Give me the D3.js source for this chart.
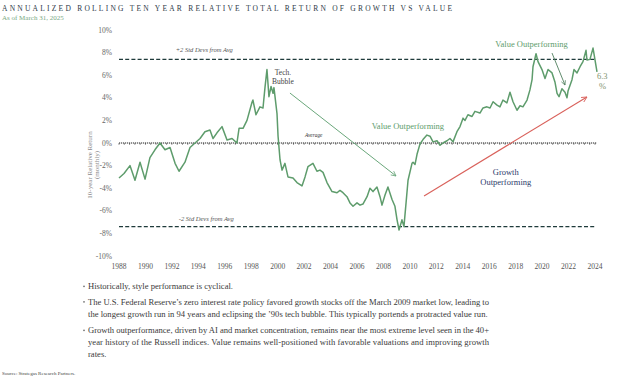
<!DOCTYPE html>
<html>
<head>
<meta charset="utf-8">
<title>Growth vs Value</title>
<style>
  html, body { margin: 0; padding: 0; background: #fff; }
  svg { display: block; }
  text { font-family: "Liberation Serif", "DejaVu Serif", serif; }
</style>
</head>
<body>
<script src="https://d3js.org/d3.v7.min.js"></script>
<script>
// rolling 10y relative return, growth minus value (%)
var years = [
  1988.00, 1988.38, 1988.83, 1989.21, 1989.59, 1989.97, 1990.34, 1990.72, 1991.10, 1991.48,
  1991.86, 1992.24, 1992.54, 1992.99, 1993.37, 1993.75, 1994.13, 1994.50, 1994.88, 1995.11,
  1995.41, 1995.79, 1996.17, 1996.55, 1996.92, 1997.08, 1997.38, 1997.68, 1998.06, 1998.13,
  1998.36, 1998.66, 1998.89, 1999.04, 1999.19, 1999.34, 1999.50, 1999.65, 1999.72, 1999.95,
  2000.03, 2000.18, 2000.33, 2000.55, 2000.78, 2001.16, 2001.46, 2001.84, 2002.07, 2002.29,
  2002.67, 2002.97, 2003.20, 2003.43, 2003.73, 2004.11, 2004.49, 2004.71, 2004.94, 2005.24,
  2005.47, 2005.70, 2006.00, 2006.23, 2006.45, 2006.76, 2006.98, 2007.21, 2007.51, 2007.74,
  2007.89, 2008.12, 2008.34, 2008.65, 2008.87, 2009.03, 2009.18, 2009.40, 2009.55, 2009.71,
  2009.86, 2010.16, 2010.24, 2010.39, 2010.54, 2010.76, 2010.99, 2011.29, 2011.52, 2011.75,
  2012.05, 2012.28, 2012.50, 2012.81, 2013.03, 2013.26, 2013.56, 2013.79, 2014.02, 2014.17,
  2014.39, 2014.70, 2014.92, 2015.30, 2015.53, 2015.83, 2016.06, 2016.29, 2016.59, 2016.81,
  2017.04, 2017.34, 2017.57, 2017.80, 2018.10, 2018.33, 2018.55, 2018.86, 2019.08, 2019.24,
  2019.31, 2019.54, 2019.69, 2019.99, 2020.22, 2020.45, 2020.75, 2020.97, 2021.13, 2021.28,
  2021.50, 2021.73, 2021.88, 2021.96, 2022.26, 2022.41, 2022.64, 2022.87, 2023.09, 2023.32,
  2023.39, 2023.62, 2023.85, 2024.00, 2024.15
];
var relReturn = [
  -3.1, -2.7, -2.0, -3.3, -1.7, -3.2, -1.3, -0.6, 0.0, -0.6,
  -0.4, -1.8, -2.5, -1.7, -0.4, 0.0, 0.4, 1.0, 1.15, 0.4,
  0.9, 1.45, 0.27, 0.4, 0.0, 1.3, 1.3, 2.0, 3.6, 3.8,
  2.5, 3.2, 3.1, 4.9, 6.5, 4.1, 5.0, 4.4, 4.9, 2.6,
  0.6, -1.5, -2.4, -1.8, -3.0, -3.1, -3.5, -3.8, -3.0, -2.1,
  -1.8, -2.5, -2.4, -2.6, -3.5, -4.3, -4.4, -4.2, -4.4, -4.75,
  -5.3, -5.6, -5.3, -5.5, -5.4, -4.75, -4.0, -4.3, -3.9, -4.75,
  -5.5, -4.6, -3.9, -5.0, -5.6, -6.8, -7.7, -6.8, -7.4, -5.3,
  -3.3, -1.8, -1.7, -1.9, -1.0, -0.1, 0.3, 0.7, 0.6, 0.1,
  0.2, -0.2, 0.0, 0.2, 0.4, 0.1, 1.0, 1.45, 2.2, 2.0,
  2.5, 2.35, 2.8, 2.65, 3.1, 3.2, 3.1, 3.65, 3.35, 3.2,
  3.8, 3.55, 4.5, 3.65, 2.9, 3.3, 3.2, 3.8, 4.7, 5.6,
  6.75, 7.9, 7.2, 6.5, 5.7, 6.5, 6.2, 5.4, 4.4, 4.1,
  4.8, 4.5, 4.0, 4.6, 5.6, 6.5, 6.2, 6.75, 7.2, 8.2,
  7.35, 7.4, 8.4, 7.35, 6.3
];
var yTicks = [-10, -8, -6, -4, -2, 0, 2, 4, 6, 8, 10];
var xTicks = d3.range(1988, 2025, 2);
var avgLevel = 0;
var stdLevels = [7.4, -7.4];
var lastValue = 6.3;

var bullets = [
  ["Historically, style performance is cyclical."],
  ["The U.S. Federal Reserve\u2019s zero interest rate policy favored growth stocks off the March 2009 market low, leading to",
   "the longest growth run in 94 years and eclipsing the \u201990s tech bubble. This typically portends a protracted value run."],
  ["Growth outperformance, driven by AI and market concentration, remains near the most extreme level seen in the 40+",
   "year history of the Russell indices. Value remains well-positioned with favorable valuations and improving growth",
   "rates."]
];

var W = 624, H = 388;
var green = "#5e9c6c";

var svg = d3.select("body").append("svg")
    .attr("width", W)
    .attr("height", H);

var x = d3.scaleLinear().domain([1988, 2024]).range([119, 595]);
var y = d3.scaleLinear().domain([-10, 10]).range([256, 30]);

// title
svg.append("text")
    .attr("x", 2).attr("y", 11)
    .attr("textLength", 450).attr("lengthAdjust", "spacing")
    .style("font-size", "7.5px").style("fill", "#2e3a48")
    .text("ANNUALIZED ROLLING TEN YEAR RELATIVE TOTAL RETURN OF GROWTH VS VALUE");
svg.append("text")
    .attr("x", 2).attr("y", 19.5)
    .style("font-size", "7px").style("fill", "#7aa983")
    .text("As of March 31, 2025");

// y labels
svg.selectAll(".ytick").data(yTicks).enter().append("text")
    .attr("x", 112).attr("y", d => y(d)).attr("dy", "0.35em")
    .attr("text-anchor", "end")
    .style("font-size", "7.5px").style("fill", "#666")
    .text(d => d + "%");

// x labels
svg.selectAll(".xtick").data(xTicks).enter().append("text")
    .attr("x", d => x(d)).attr("y", 268.5)
    .attr("text-anchor", "middle")
    .style("font-size", "7.5px").style("fill", "#555")
    .text(d => d);

// axis title
var yt = svg.append("text")
    .attr("transform", "translate(92,165) rotate(-90)")
    .attr("text-anchor", "middle")
    .style("font-size", "7px").style("fill", "#888");
yt.append("tspan").attr("x", 0).attr("y", 0).text("10-year Relative Return");
yt.append("tspan").attr("x", 0).attr("y", 6.5).text("(monthly)");

// +/-2 std lines
svg.selectAll(".std").data(stdLevels).enter().append("line")
    .attr("x1", x(1988)).attr("x2", x(2024))
    .attr("y1", d => y(d)).attr("y2", d => y(d))
    .style("stroke", "#1f3b3b").style("stroke-width", 1.4)
    .style("stroke-dasharray", "4,2.2");

// average line with small ticks
svg.append("line")
    .attr("x1", x(1988)).attr("x2", x(2024.15))
    .attr("y1", y(avgLevel)).attr("y2", y(avgLevel))
    .style("stroke", "#222").style("stroke-width", 1.2)
    .style("stroke-dasharray", "1.2,0.8");
svg.selectAll(".avgtick").data(d3.range(1988, 2024.2, 0.4)).enter().append("line")
    .attr("x1", d => x(d)).attr("x2", d => x(d))
    .attr("y1", y(avgLevel)).attr("y2", y(avgLevel) + 1.8)
    .style("stroke", "#333").style("stroke-width", 0.6);

// arrow markers
var defs = svg.append("defs");
function marker(id, col) {
  defs.append("marker")
      .attr("id", id)
      .attr("viewBox", "0 0 10 10")
      .attr("refX", 9).attr("refY", 5)
      .attr("markerWidth", 6).attr("markerHeight", 6)
      .attr("orient", "auto")
      .append("path")
      .attr("d", "M1,1 L9,5 L1,9")
      .style("fill", "none").style("stroke", col).style("stroke-width", 1.3);
}
marker("arrG", "#6aa77b");
marker("arrD", "#4f7f5d");
marker("arrR", "#d9615b");

// the series
var line = d3.line()
    .x((d, i) => x(years[i]))
    .y(d => y(d));
svg.append("path")
    .datum(relReturn)
    .attr("d", line)
    .style("fill", "none")
    .style("stroke", green)
    .style("stroke-width", 1.5)
    .style("stroke-linejoin", "round");

// arrows
var arrows = [
  {from: [2000.93, 4.42], to: [2008.95, -2.92], col: "#6aa77b", m: "arrG", w: 1},
  {from: [2020.75, 7.96], to: [2021.73, 5.13], col: "#4f7f5d", m: "arrD", w: 0.9},
  {from: [2011.07, -4.69], to: [2023.39, 4.07], col: "#d9615b", m: "arrR", w: 1.1}
];
svg.selectAll(".arrow").data(arrows).enter().append("line")
    .attr("x1", d => x(d.from[0])).attr("y1", d => y(d.from[1]))
    .attr("x2", d => x(d.to[0])).attr("y2", d => y(d.to[1]))
    .style("stroke", d => d.col).style("stroke-width", d => d.w)
    .attr("marker-end", d => "url(#" + d.m + ")");

// annotations
function note(t, yr, v, opts) {
  svg.append("text")
      .attr("x", x(yr)).attr("y", y(v))
      .attr("text-anchor", opts.anchor || "middle")
      .style("font-size", opts.size + "px")
      .style("font-style", opts.italic ? "italic" : "normal")
      .style("fill", opts.fill)
      .text(t);
}
note("+2 Std Devs from Avg", 1994.45, 8.05, {size: 6.5, italic: true, fill: "#555"});
note("-2 Std Devs from Avg", 1994.6, -6.9, {size: 6.5, italic: true, fill: "#555"});
note("Average", 2002.07, 0.5, {size: 5.3, italic: true, fill: "#333", anchor: "start"});
note("Tech.", 2000.4, 6.0, {size: 7.5, fill: "#444"});
note("Bubble", 2000.4, 5.25, {size: 7.5, fill: "#444"});
note("Value Outperforming", 2009.85, 1.25, {size: 8.5, fill: green});
note("Value Outperforming", 2019.2, 8.5, {size: 8.5, fill: green});
note("Growth", 2017.25, -2.8, {size: 8.5, fill: "#2c3a6b"});
note("Outperforming", 2017.25, -3.75, {size: 8.5, fill: "#2c3a6b"});
note(String(lastValue), 2024.15, 5.7, {size: 8.5, fill: "#7f9470", anchor: "start"});
note("%", 2024.3, 4.8, {size: 8.5, fill: "#7f9470", anchor: "start"});

// bullet commentary
var lineY = [289, 304.5, 316.5, 333, 345, 357];
var k = 0;
bullets.forEach(function (para) {
  para.forEach(function (t, j) {
    if (j === 0) {
      svg.append("circle")
          .attr("cx", 84).attr("cy", lineY[k] - 2.6).attr("r", 0.8)
          .style("fill", "#666");
    }
    var tx = svg.append("text")
        .attr("x", 88).attr("y", lineY[k])
        .style("font-size", "8.6px").style("fill", "#3a3a3a")
        .text(t);
    if (j < para.length - 1) {
      tx.attr("textLength", 401).attr("lengthAdjust", "spacing");
    }
    k++;
  });
});

svg.append("text")
    .attr("x", 2).attr("y", 375)
    .style("font-size", "5px").style("fill", "#444")
    .text("Source:  Strategas Research Partners.");
</script>
</body>
</html>
